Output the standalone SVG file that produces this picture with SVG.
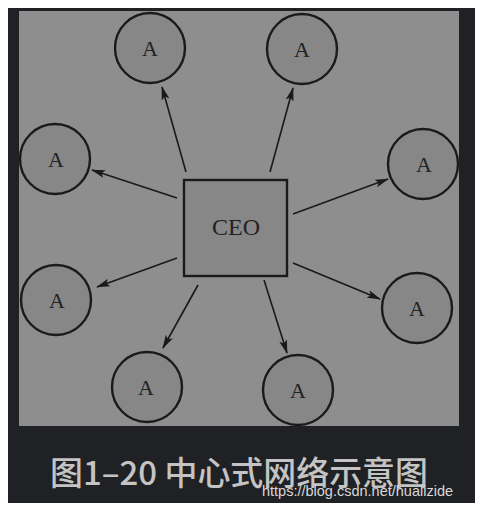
<svg xmlns="http://www.w3.org/2000/svg" width="480" height="510" viewBox="0 0 480 510">
<style>
.node circle{fill:#878787;stroke:#1a1a1a;stroke-width:2.4}
.node text{font-family:"Liberation Serif",serif;font-size:22px;fill:#222;text-anchor:middle}
#connectors line{stroke:#1a1a1a;stroke-width:1.6;marker-end:url(#ah)}
</style>
<defs>
<marker id="ah" viewBox="0 0 14 8" refX="13" refY="4" markerWidth="14" markerHeight="8" markerUnits="userSpaceOnUse" orient="auto">
<path d="M0,0 L14,4 L0,8 L3,4 Z" fill="#1a1a1a"/>
</marker>
</defs>
<rect width="480" height="510" fill="#ffffff"/>
<rect x="8" y="8" width="467" height="495" fill="#202124"/>
<rect x="19" y="11" width="440" height="415" fill="#8e8e8e"/>
<g id="connectors">
<line x1="186" y1="172" x2="162" y2="87"/>
<line x1="270" y1="172" x2="293" y2="88"/>
<line x1="177" y1="198" x2="92" y2="170"/>
<line x1="293" y1="214" x2="388" y2="179"/>
<line x1="177" y1="258" x2="97" y2="287"/>
<line x1="293" y1="263" x2="380" y2="299"/>
<line x1="198" y1="285" x2="163" y2="348"/>
<line x1="264" y1="280" x2="287" y2="353"/>
</g>
<g id="ceo" class="node">
<rect x="184" y="180" width="103" height="96" fill="#878787" stroke="#1a1a1a" stroke-width="2.4"/>
<text x="236" y="235" style="font-size:24px">CEO</text>
</g>
<g id="a1" class="node"><circle cx="150" cy="48" r="35"/><text x="150" y="56">A</text></g>
<g id="a2" class="node"><circle cx="302" cy="49" r="35"/><text x="302" y="57">A</text></g>
<g id="a3" class="node"><circle cx="55" cy="159" r="35"/><text x="56" y="167">A</text></g>
<g id="a4" class="node"><circle cx="423" cy="164" r="35"/><text x="424" y="172">A</text></g>
<g id="a5" class="node"><circle cx="56" cy="300" r="35"/><text x="57" y="308">A</text></g>
<g id="a6" class="node"><circle cx="417" cy="308" r="35"/><text x="417" y="316">A</text></g>
<g id="a7" class="node"><circle cx="147" cy="387" r="35"/><text x="146" y="395">A</text></g>
<g id="a8" class="node"><circle cx="298" cy="390" r="35"/><text x="298" y="398">A</text></g>
<text x="50" y="485" font-family="'Noto Sans CJK SC',sans-serif" font-size="33" font-weight="500" fill="#c4c4c4" textLength="378" lengthAdjust="spacingAndGlyphs">图1–20 中心式网络示意图</text>
<text x="262" y="496" font-family="'Liberation Sans',Arial,sans-serif" font-size="14.5" fill="#d8d8d8">https://blog.csdn.net/hualizide</text>
</svg>
